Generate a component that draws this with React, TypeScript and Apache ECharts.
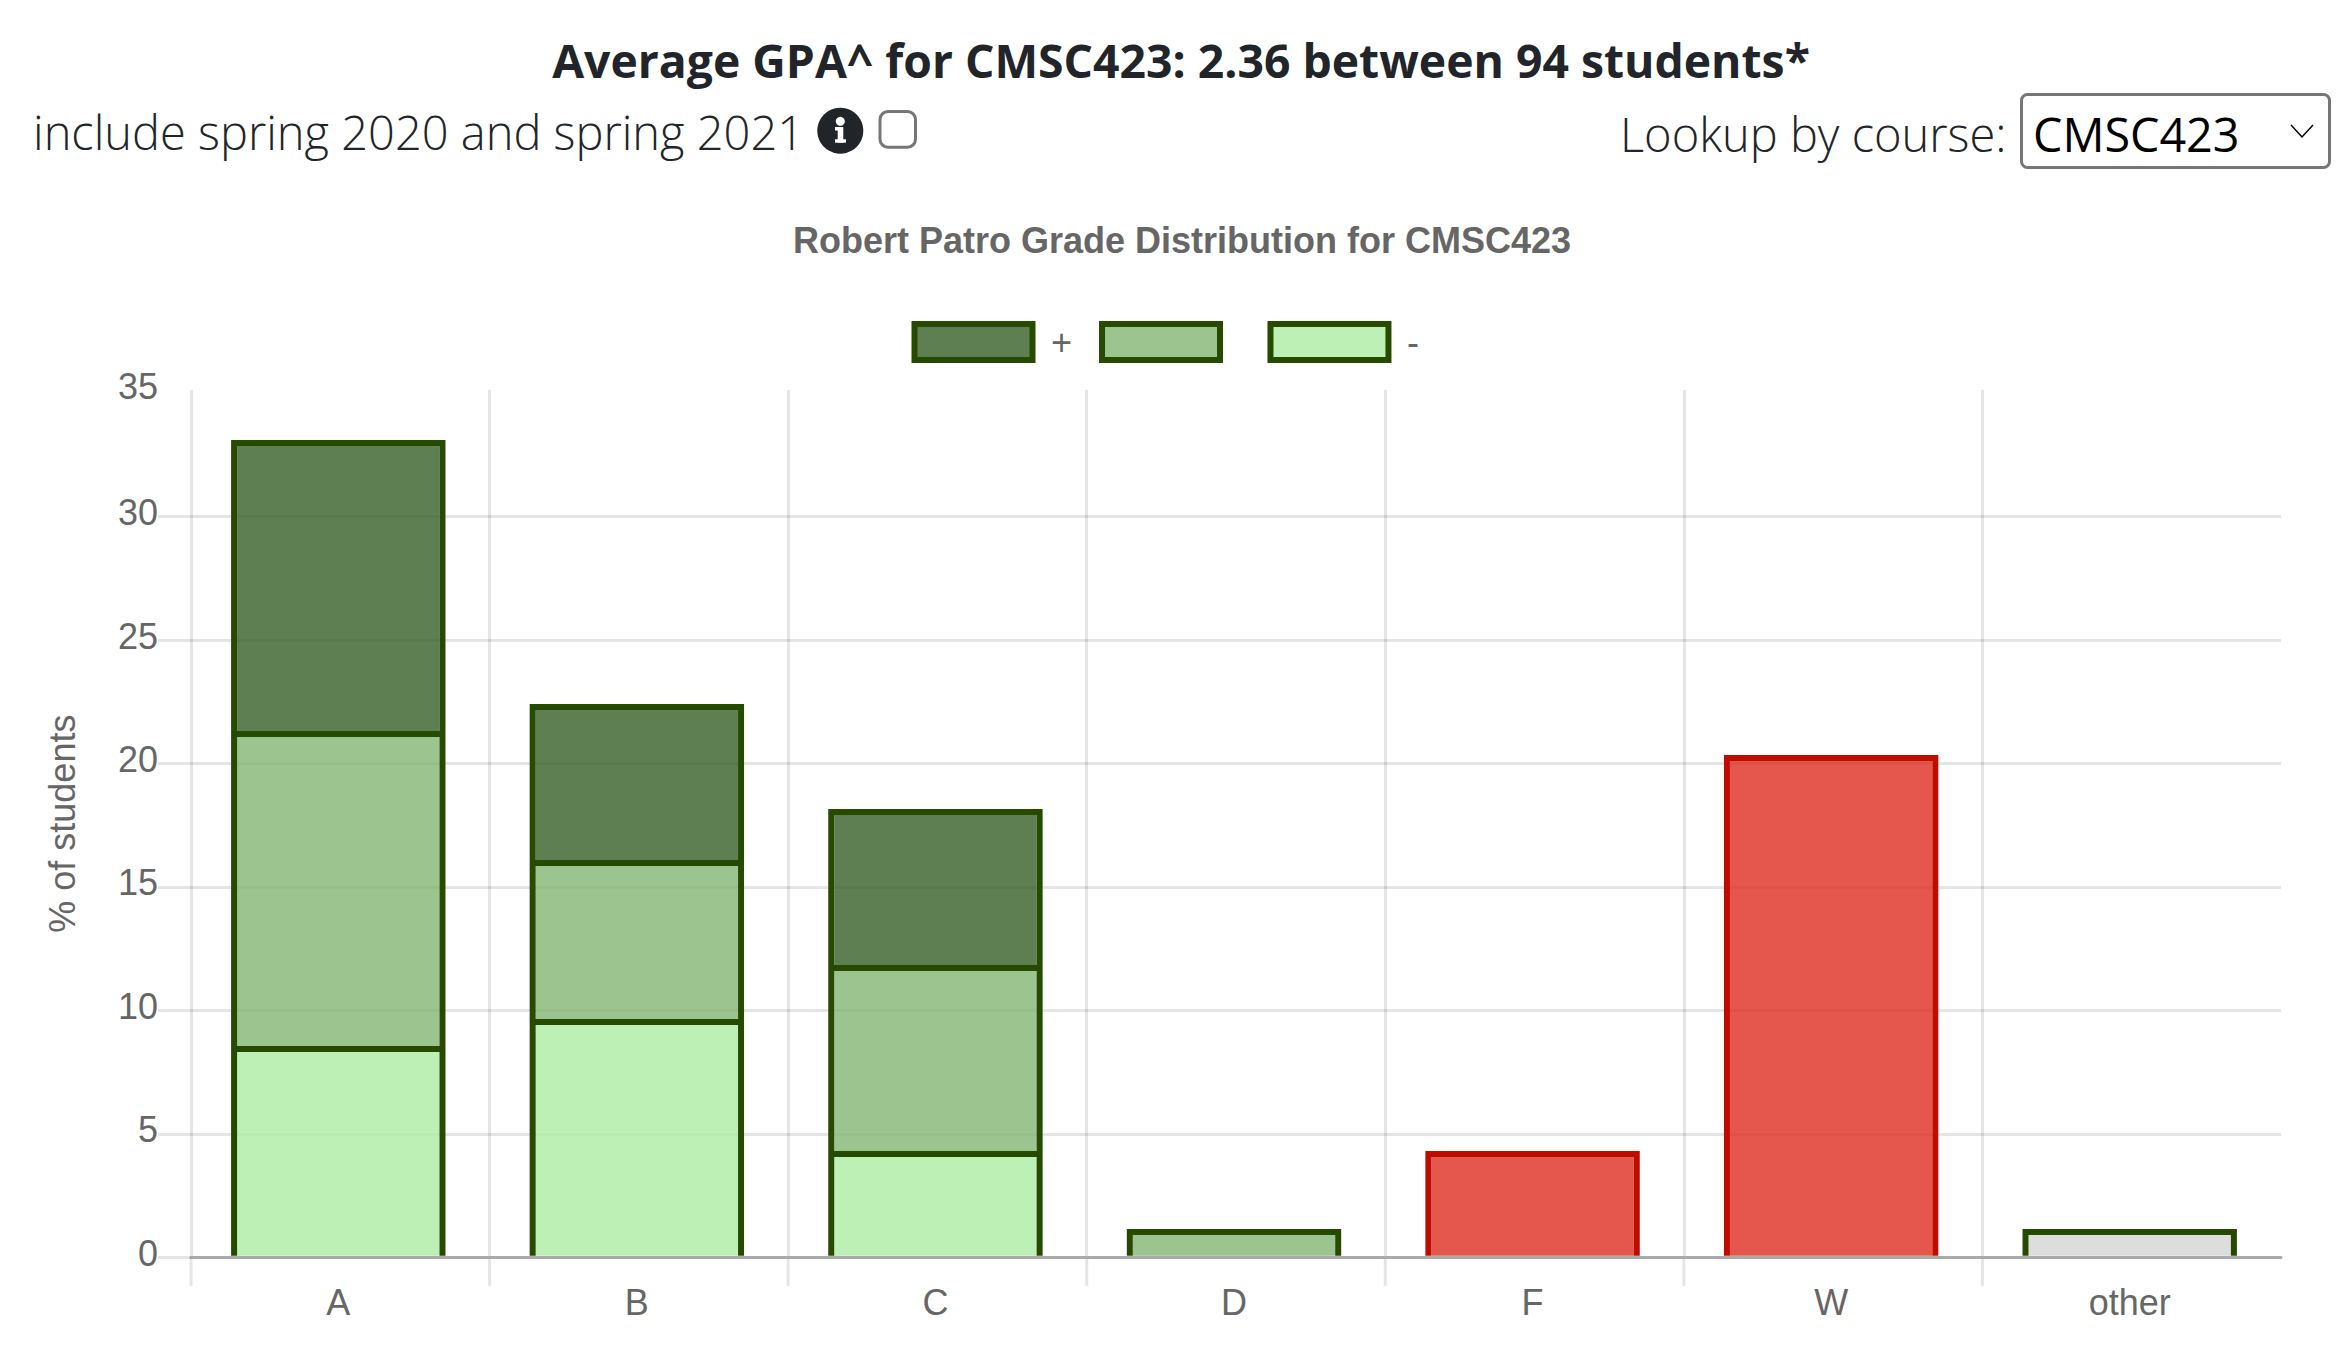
import React, { useEffect, useRef } from "react";
import * as echarts from "echarts";

const categories = ["A", "B", "C", "D", "F", "W", "other"];
const minusValues = [8.56, 9.65, 4.31, 0, 0, 0, 0];
const middleValues = [12.76, 6.44, 7.53, 1.15, 4.31, 20.35, 1.15];
const plusValues = [11.78, 6.32, 6.32, 0, 0, 0, 0];
const yTickValues = [0, 5, 10, 15, 20, 25, 30];
const yLabelValues = [0, 5, 10, 15, 20, 25, 30, 35.13];
const yMax = 35.13;

const pageTitle = "Average GPA^ for CMSC423: 2.36 between 94 students*";
const chartTitle = "Robert Patro Grade Distribution for CMSC423";
const checkLabel = "include spring 2020 and spring 2021";
const lookupLabel = "Lookup by course:";
const selectedCourse = "CMSC423";

const GREEN = "#264B00";
const RED = "#BE0C00";
const FILL_PLUS = "rgba(54,95,39,0.8)";
const FILL_MID = "rgba(130,181,115,0.8)";
const FILL_MINUS = "rgba(171,236,161,0.8)";
const FILL_RED = "rgba(222,45,33,0.8)";
const FILL_GREY = "rgba(212,212,212,0.8)";
const GRID = "rgba(0,0,0,0.1)";
const BW = 6;
const PAGE_FONT = "'Open Sans', 'Noto Sans', sans-serif";
const CHART_FONT = "'Liberation Sans', Arial, sans-serif";

const midFills = [FILL_MID, FILL_MID, FILL_MID, FILL_MID, FILL_RED, FILL_RED, FILL_GREY];
const midBorders = [GREEN, GREEN, GREEN, GREEN, RED, RED, GREEN];

function toRows(values: number[], bases: number[]) {
  return values
    .map((v, i) => [i, bases[i], bases[i] + v])
    .filter((r) => r[2] > r[1]);
}

function barRenderer(fillOf: (i: number) => string, strokeOf: (i: number) => string) {
  return (_params: any, api: any) => {
    const i = api.value(0);
    const base = api.value(1);
    const top = api.value(2);
    const band = api.size([1, 0])[0];
    const width = band * 0.718;
    const cx = api.coord([i, top])[0] - 2;
    const yTop = api.coord([i, top])[1];
    const yBase = api.coord([i, base])[1] - (base === 0 ? 1.5 : 0);
    const x0 = cx - width / 2;
    const x1 = cx + width / 2;
    return {
      type: "group",
      children: [
        {
          type: "rect",
          shape: { x: x0 + BW, y: yTop + BW, width: width - 2 * BW, height: Math.max(0, yBase - yTop - BW) },
          style: { fill: fillOf(i), stroke: "none" },
        },
        {
          type: "polyline",
          shape: {
            points: [
              [x0 + BW / 2, yBase],
              [x0 + BW / 2, yTop + BW / 2],
              [x1 - BW / 2, yTop + BW / 2],
              [x1 - BW / 2, yBase],
            ],
          },
          style: { fill: "none", stroke: strokeOf(i), lineWidth: BW, lineJoin: "miter", lineCap: "butt" },
        },
      ],
    };
  };
}

// Category boundary ticks below the axis; the band's right end carries none.
function tickRenderer(_params: any, api: any) {
  const i = api.value(0);
  const band = api.size([1, 0])[0];
  const p = api.coord([i, 0]);
  const x = p[0] - band / 2;
  return {
    type: "line",
    shape: { x1: x, y1: p[1] + 1.5, x2: x, y2: p[1] + 28.5 },
    style: { stroke: GRID, lineWidth: 3 },
  };
}

export default function App() {
  const ref = useRef<HTMLDivElement>(null);
  useEffect(() => {
    const chart = echarts.init(ref.current!, undefined, { renderer: "svg" });
    const zeros = categories.map(() => 0);
    const midBases = minusValues;
    const plusBases = minusValues.map((v, i) => v + middleValues[i]);
    chart.setOption({
      animation: false,
      backgroundColor: "#fff",
      title: {
        text: chartTitle,
        left: 1177,
        top: 217,
        textAlign: "center",
        textStyle: { fontFamily: CHART_FONT, fontSize: 36, fontWeight: "bold", color: "#666" },
      },
      legend: {
        left: 911.5,
        top: 321,
        padding: 0,
        icon: "rect",
        itemWidth: 118,
        itemHeight: 36,
        itemGap: 27,
        selectedMode: false,
        textStyle: { fontFamily: CHART_FONT, fontSize: 36, color: "#666", padding: [0, 0, 6, 13.5] },
        data: [
          { name: "+", itemStyle: { color: FILL_PLUS, borderColor: GREEN, borderWidth: BW } },
          { name: " ", itemStyle: { color: FILL_MID, borderColor: GREEN, borderWidth: BW }, textStyle: { fontSize: 7 } },
          { name: "-", itemStyle: { color: FILL_MINUS, borderColor: GREEN, borderWidth: BW } },
        ],
      },
      grid: { left: 191, top: 390, width: 2090, height: 867.3, containLabel: false },
      xAxis: {
        type: "category",
        data: categories,
        boundaryGap: true,
        axisLine: { show: true, lineStyle: { color: "#aaa", width: 3 } },
        axisTick: { show: false },
        splitLine: { show: true, showMaxLine: false, lineStyle: { color: GRID, width: 3 } },
        axisLabel: { fontFamily: CHART_FONT, fontSize: 36, color: "#666", margin: 27, padding: [0, 4, 0, 0] },
      },
      yAxis: {
        type: "value",
        min: 0,
        max: yMax,
        interval: 5,
        name: "% of students",
        nameLocation: "middle",
        nameGap: 111,
        nameRotate: 90,
        nameTextStyle: { fontFamily: CHART_FONT, fontSize: 36, color: "#666" },
        axisLine: { show: false },
        axisTick: { show: true, length: 33, customValues: yTickValues, lineStyle: { color: GRID, width: 3 } },
        splitLine: { show: true, lineStyle: { color: GRID, width: 3 } },
        axisLabel: {
          customValues: yLabelValues,
          formatter: (v: number) => String(Math.round(v)),
          fontFamily: CHART_FONT,
          fontSize: 36,
          color: "#666",
          margin: 33,
          verticalAlign: "bottom",
          lineHeight: 8,
        },
      },
      series: [
        {
          type: "custom",
          name: "ticks",
          silent: true,
          data: categories.map((_c, i) => [i, 0]),
          encode: { x: 0, y: 1 },
          renderItem: tickRenderer,
        },
        {
          type: "custom",
          name: "-",
          data: toRows(minusValues, zeros),
          encode: { x: 0, y: [1, 2] },
          itemStyle: { color: FILL_MINUS, borderColor: GREEN, borderWidth: BW },
          renderItem: barRenderer(() => FILL_MINUS, () => GREEN),
        },
        {
          type: "custom",
          name: " ",
          data: toRows(middleValues, midBases),
          encode: { x: 0, y: [1, 2] },
          itemStyle: { color: FILL_MID, borderColor: GREEN, borderWidth: BW },
          renderItem: barRenderer((i) => midFills[i], (i) => midBorders[i]),
        },
        {
          type: "custom",
          name: "+",
          data: toRows(plusValues, plusBases),
          encode: { x: 0, y: [1, 2] },
          itemStyle: { color: FILL_PLUS, borderColor: GREEN, borderWidth: BW },
          renderItem: barRenderer(() => FILL_PLUS, () => GREEN),
        },
      ],
      graphic: [
        {
          type: "text",
          x: 1181,
          y: 60,
          style: {
            text: pageTitle,
            fontFamily: PAGE_FONT,
            fontSize: 46.3,
            fontWeight: 700,
            fill: "#212529",
            align: "center",
            verticalAlign: "middle",
          },
        },
        {
          type: "text",
          x: 33,
          y: 132,
          style: {
            text: checkLabel,
            fontFamily: PAGE_FONT,
            fontSize: 47,
            fontWeight: 300,
            fill: "#212529",
            align: "left",
            verticalAlign: "middle",
          },
        },
        { type: "circle", shape: { cx: 840.3, cy: 130.7, r: 23 }, style: { fill: "#212529" } },
        { type: "circle", shape: { cx: 840.3, cy: 121.3, r: 4.5 }, style: { fill: "#fff" } },
        { type: "rect", shape: { x: 837.7, y: 127, width: 5.6, height: 15.7 }, style: { fill: "#fff" } },
        { type: "rect", shape: { x: 835, y: 127, width: 5, height: 3.5 }, style: { fill: "#fff" } },
        { type: "rect", shape: { x: 835, y: 139.3, width: 11, height: 3.4 }, style: { fill: "#fff" } },
        {
          type: "rect",
          shape: { x: 880, y: 111.5, width: 35.5, height: 35.7, r: 8 },
          style: { fill: "#fff", stroke: "#767676", lineWidth: 3 },
        },
        {
          type: "text",
          x: 1620,
          y: 134,
          style: {
            text: lookupLabel,
            fontFamily: PAGE_FONT,
            fontSize: 47,
            fontWeight: 300,
            fill: "#212529",
            align: "left",
            verticalAlign: "middle",
          },
        },
        {
          type: "rect",
          shape: { x: 2021.5, y: 94.5, width: 308, height: 73, r: 6 },
          style: { fill: "#fff", stroke: "#767676", lineWidth: 3 },
        },
        {
          type: "text",
          x: 2033,
          y: 134,
          style: {
            text: selectedCourse,
            fontFamily: PAGE_FONT,
            fontSize: 46.7,
            fontWeight: 400,
            fill: "#000",
            align: "left",
            verticalAlign: "middle",
          },
        },
        {
          type: "polyline",
          shape: { points: [[2291, 125], [2302, 137], [2313, 125]] },
          style: { fill: "none", stroke: "#000", lineWidth: 1.5 },
        },
      ],
    });
    return () => chart.dispose();
  }, []);
  return (
    <div
      ref={ref}
      style={{ position: "absolute", left: 0, top: 0, width: 2348, height: 1350, background: "#fff" }}
    />
  );
}
